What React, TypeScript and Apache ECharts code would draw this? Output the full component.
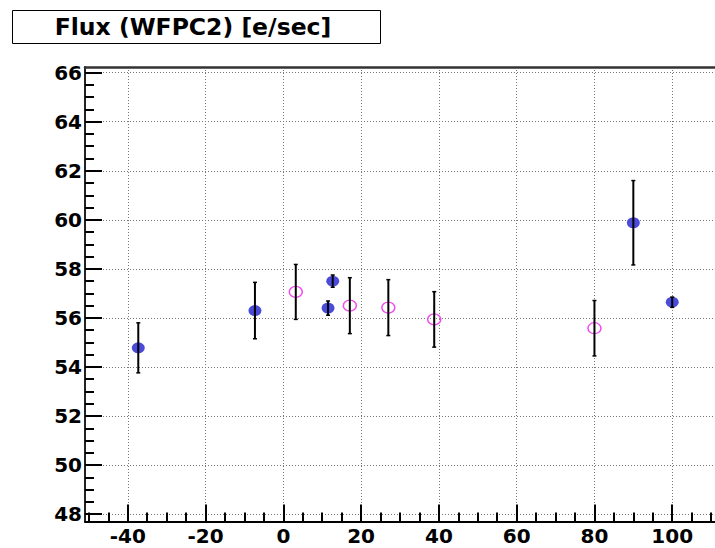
import React, { useEffect, useRef } from "react";
import * as echarts from "echarts";

const titleText = "Flux (WFPC2) [e/sec]";

const blueX = [-37.3, -7.3, 11.5, 12.7, 90, 100];
const blueY = [54.78, 56.3, 56.4, 57.5, 59.88, 56.64];
const blueErr = [1.02, 1.15, 0.29, 0.25, 1.72, 0.21];

const magX = [3.2, 17.1, 27.0, 38.8, 80];
const magY = [57.06, 56.5, 56.42, 55.94, 55.58];
const magErr = [1.12, 1.14, 1.14, 1.13, 1.13];

const xMajor = [-40, -20, 0, 20, 40, 60, 80, 100];
const yMajor = [48, 50, 52, 54, 56, 58, 60, 62, 64, 66];
const xRange = [-51, 111];
const yRange = [47.7, 66.23];

const xMinor: number[] = [];
for (let v = -50; v <= 110; v += 5) if (!xMajor.includes(v)) xMinor.push(v);
const yMinor: number[] = [];
for (let v = 48; v <= 66; v += 0.5) if (!yMajor.includes(v)) yMinor.push(v);

const ELLIPSE = "path://M0,50 A50,50 0 1 1 100,50 A50,50 0 1 1 0,50 Z";
const FONT = "DejaVu Sans";

function errRender(params: any, api: any) {
  const x = api.value(0);
  const y = api.value(1);
  const e = api.value(2);
  const t = api.coord([x, y + e]);
  const b = api.coord([x, y - e]);
  const cw = 2;
  return {
    type: "group",
    children: [
      { type: "line", shape: { x1: t[0], y1: t[1], x2: b[0], y2: b[1] }, style: { stroke: "#000", lineWidth: 2 } },
      { type: "line", shape: { x1: t[0] - cw, y1: t[1], x2: t[0] + cw, y2: t[1] }, style: { stroke: "#000", lineWidth: 1.5 } },
      { type: "line", shape: { x1: b[0] - cw, y1: b[1], x2: b[0] + cw, y2: b[1] }, style: { stroke: "#000", lineWidth: 1.5 } },
    ],
  };
}

export default function App() {
  const ref = useRef<HTMLDivElement>(null);
  useEffect(() => {
    if (!ref.current) return;
    const chart = echarts.init(ref.current, null, { renderer: "svg" });
    const blueData = blueX.map((x, i) => [x, blueY[i]]);
    const magData = magX.map((x, i) => [x, magY[i]]);
    const blueErrData = blueX.map((x, i) => [x, blueY[i], blueErr[i]]);
    const magErrData = magX.map((x, i) => [x, magY[i], magErr[i]]);
    const grid = { left: 85, top: 67, width: 630, bottom: 26.5 };
    const splitLine = { show: true, lineStyle: { color: "#777", type: [1, 2] as any, width: 1 } };
    chart.setOption({
      animation: false,
      backgroundColor: "#fff",
      grid,
      graphic: [
        { type: "rect", shape: { x: 12.5, y: 10.5, width: 368, height: 33 }, style: { fill: "#fff", stroke: "#000", lineWidth: 1 } },
        {
          type: "text",
          x: 193,
          y: 27,
          style: { text: titleText, fill: "#000", font: `bold 23.5px "${FONT}"`, align: "center", verticalAlign: "middle" },
        },
      ],
      xAxis: [
        {
          type: "value",
          min: xRange[0],
          max: xRange[1],
          position: "bottom",
          axisLine: { show: true, onZero: false, lineStyle: { color: "#000", width: 2 } },
          axisTick: { show: true, inside: true, length: 17, customValues: xMajor, lineStyle: { color: "#000", width: 2 } },
          axisLabel: { show: true, customValues: xMajor, margin: 4, color: "#000", fontFamily: FONT, fontWeight: "bold", fontSize: 20 },
          splitLine,
        },
        {
          type: "value",
          min: xRange[0],
          max: xRange[1],
          position: "bottom",
          axisLine: { show: false, onZero: false },
          axisTick: { show: true, inside: true, length: 9, customValues: xMinor, lineStyle: { color: "#000", width: 2 } },
          axisLabel: { show: false },
          splitLine: { show: false },
        },
        {
          type: "value",
          min: xRange[0],
          max: xRange[1],
          position: "top",
          axisLine: { show: true, onZero: false, lineStyle: { color: "#333", width: 2.5 } },
          axisTick: { show: false },
          axisLabel: { show: false },
          splitLine: { show: false },
        },
      ],
      yAxis: [
        {
          type: "value",
          min: yRange[0],
          max: yRange[1],
          position: "left",
          axisLine: { show: true, onZero: false, lineStyle: { color: "#222", width: 2 } },
          axisTick: { show: true, inside: true, length: 17, customValues: yMajor, lineStyle: { color: "#000", width: 2 } },
          axisLabel: { show: true, customValues: yMajor, margin: 3, color: "#000", fontFamily: FONT, fontWeight: "bold", fontSize: 20 },
          splitLine,
        },
        {
          type: "value",
          min: yRange[0],
          max: yRange[1],
          position: "left",
          axisLine: { show: false, onZero: false },
          axisTick: { show: true, inside: true, length: 9, customValues: yMinor, lineStyle: { color: "#000", width: 2 } },
          axisLabel: { show: false },
          splitLine: { show: false },
        },
      ],
      series: [
        {
          type: "scatter",
          data: blueData,
          symbol: ELLIPSE,
          symbolSize: [13, 11],
          itemStyle: { color: "#4b4bd9", opacity: 1 },
          z: 2,
        },
        {
          type: "scatter",
          data: magData,
          symbol: ELLIPSE,
          symbolSize: [13, 11],
          itemStyle: { color: "rgba(0,0,0,0)", borderColor: "#f04cf0", borderWidth: 1.4, opacity: 1 },
          z: 2,
        },
        { type: "custom", data: blueErrData, renderItem: errRender, encode: { x: 0, y: 1 }, z: 3 },
        { type: "custom", data: magErrData, renderItem: errRender, encode: { x: 0, y: 1 }, z: 3 },
      ],
    });
    return () => chart.dispose();
  }, []);
  return <div ref={ref} style={{ position: "fixed", left: 0, top: 0, width: 715, height: 548 }} />;
}
